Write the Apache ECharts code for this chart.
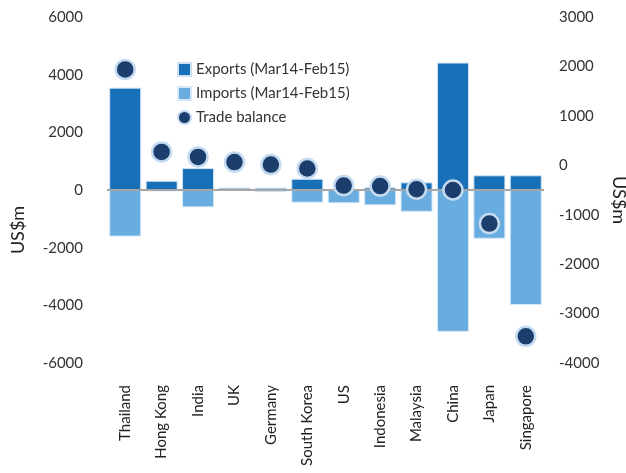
<!DOCTYPE html>
<html>
<head>
<meta charset="utf-8">
<script src="https://cdn.jsdelivr.net/npm/echarts@6/dist/echarts.min.js"></script>
<style>
html,body{margin:0;padding:0;background:#fff;}
#chart{width:626px;height:473px;}
</style>
</head>
<body>
<div id="chart"></div>
<script>
var categories = ['Thailand','Hong Kong','India','UK','Germany','South Korea','US','Indonesia','Malaysia','China','Japan','Singapore'];
var exportsVals = [3550, 320, 760, 80, 80, 390, 40, 90, 265, 4420, 510, 510];
var importsVals = [-1615, -45, -600, -15, -75, -440, -460, -530, -755, -4920, -1690, -3990];
var tradeBalance = [1940, 270, 170, 65, 15, -65, -410, -420, -485, -500, -1180, -3460];
var leftTicks = {min: -6000, max: 6000, interval: 2000};
var rightTicks = {min: -4000, max: 3000, interval: 1000};

var FONT = 'Lato, "Open Sans", sans-serif';
var plain = function (v) { return String(v); };
var chart = echarts.init(document.getElementById('chart'), null, {renderer: 'canvas'});
chart.setOption({
  animation: false,
  textStyle: {fontFamily: FONT},
  grid: {left: 107, right: 82, top: 17, bottom: 110, containLabel: false},
  legend: {
    orient: 'vertical', left: 172, top: 56, itemWidth: 13, itemHeight: 13, itemGap: 7,
    textStyle: {fontSize: 15, color: '#333', fontFamily: FONT, lineHeight: 17},
    data: [
      {name: 'Exports (Mar14-Feb15)', icon: 'rect'},
      {name: 'Imports (Mar14-Feb15)', icon: 'rect'},
      {name: 'Trade balance', icon: 'circle'}
    ]
  },
  xAxis: {
    type: 'category', data: categories,
    axisLine: {show: false, onZero: false}, axisTick: {show: false},
    axisLabel: {rotate: 90, margin: 22, fontSize: 15, color: '#222', fontFamily: FONT, interval: 0}
  },
  yAxis: [
    {type: 'value', min: leftTicks.min, max: leftTicks.max, interval: leftTicks.interval,
     splitLine: {show: false}, axisLine: {show: false}, axisTick: {show: false},
     axisLabel: {margin: 24, fontSize: 15, color: '#333', fontFamily: FONT, formatter: plain}},
    {type: 'value', min: rightTicks.min, max: rightTicks.max, interval: rightTicks.interval,
     position: 'right', splitLine: {show: false}, axisLine: {show: false}, axisTick: {show: false},
     axisLabel: {margin: 15, fontSize: 15, color: '#333', fontFamily: FONT, formatter: plain}}
  ],
  graphic: [
    {type: 'text', x: 18, y: 230, rotation: Math.PI / 2,
     style: {text: 'US$m', font: '18px ' + FONT, fill: '#222', textAlign: 'center', textVerticalAlign: 'middle'}},
    {type: 'text', x: 619, y: 200, rotation: -Math.PI / 2,
     style: {text: 'US$m', font: '18px ' + FONT, fill: '#222', textAlign: 'center', textVerticalAlign: 'middle'}}
  ],
  series: [
    {name: 'Exports (Mar14-Feb15)', type: 'bar', stack: 'trade', data: exportsVals, barWidth: 32,
     itemStyle: {color: '#1870b8', borderColor: '#cfe2f3', borderWidth: 1},
     markLine: {silent: true, symbol: 'none', label: {show: false},
       lineStyle: {color: '#a6a6a6', width: 2, type: 'solid'}, data: [{yAxis: 0}]}},
    {name: 'Imports (Mar14-Feb15)', type: 'bar', stack: 'trade', data: importsVals, barWidth: 32,
     itemStyle: {color: '#69ade0', borderColor: '#d6e8f7', borderWidth: 1}},
    {name: 'Trade balance', type: 'scatter', yAxisIndex: 1, data: tradeBalance, symbolSize: 19, z: 5,
     itemStyle: {color: '#1b3e6c', borderColor: '#c3daf0', borderWidth: 2.5, opacity: 1}}
  ]
});
</script>
</body>
</html>
